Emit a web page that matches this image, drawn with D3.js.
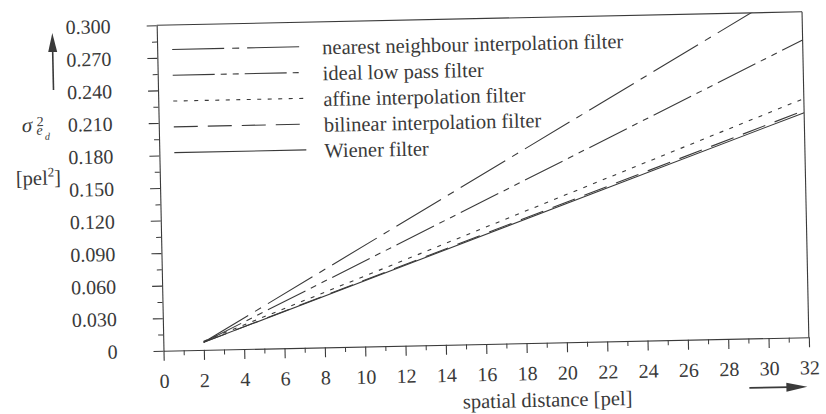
<!DOCTYPE html>
<html>
<head>
<meta charset="utf-8">
<script src="https://cdn.jsdelivr.net/npm/d3@7"></script>
<style>
  body { margin: 0; background: #fff; }
</style>
</head>
<body>
<script>
// values (all curves start at 2 pel)
const distance = [2, 32];
const nearestNeighbour = [0.007, 0.327];
const idealLowPass = [0.007, 0.274];
const affine = [0.008, 0.220];
const bilinear = [0.007, 0.209];
const wiener = [0.007, 0.207];

const seriesNames = [
  "nearest neighbour interpolation filter",
  "ideal low pass filter",
  "affine interpolation filter",
  "bilinear interpolation filter",
  "Wiener filter"
];
const seriesValues = [nearestNeighbour, idealLowPass, affine, bilinear, wiener];

const xTickValues = [0, 2, 4, 6, 8, 10, 12, 14, 16, 18, 20, 22, 24, 26, 28, 30, 32];
const xMinorValues = [1, 3, 5, 7, 9, 11, 13, 15, 17, 19, 21, 23, 25, 27, 29, 31];
const yTickValues = [0, 0.03, 0.06, 0.09, 0.12, 0.15, 0.18, 0.21, 0.24, 0.27, 0.3];
const yTickLabels = ["0", "0.030", "0.060", "0.090", "0.120", "0.150", "0.180", "0.210", "0.240", "0.270", "0.300"];
const yMinorValues = [0.015, 0.045, 0.075, 0.105, 0.135, 0.165, 0.195, 0.225, 0.255, 0.285];

const width = 826;
const height = 414;
const plotLeft = 160, plotRight = 805.5, plotTop = 18.5, plotBottom = 344;
const ink = "#3a3a3a";
const font = "'Liberation Serif', 'Times New Roman', serif";

// dash styles, same order as seriesNames
const dashes = ["52,8,7,8", "42,6,6,6,6,6", "4,6.5", "24,10", null];

const x = d3.scaleLinear([0, 32], [plotLeft, plotRight]);
const y = d3.scaleLinear([0, 0.3], [plotBottom, plotTop]);

const svg = d3.select("body").append("svg")
  .attr("width", width)
  .attr("height", height)
  .attr("viewBox", [0, 0, width, height]);

svg.append("defs").append("clipPath").attr("id", "plot")
  .append("rect")
  .attr("x", plotLeft).attr("y", plotTop)
  .attr("width", plotRight - plotLeft).attr("height", plotBottom - plotTop);

// the scanned page is slightly tilted
const g = svg.append("g")
  .attr("transform", "rotate(-1.2, 483, 181)")
  .attr("font-family", font)
  .attr("fill", ink);

// y axis with major and minor ticks
g.append("g")
  .attr("transform", `translate(${plotLeft},0)`)
  .call(d3.axisLeft(y).tickValues(yMinorValues).tickSize(5).tickFormat(""))
  .call((a) => a.select(".domain").remove())
  .call((a) => a.selectAll("line").attr("stroke", ink));

g.append("g")
  .attr("transform", `translate(${plotLeft},0)`)
  .call(d3.axisLeft(y).tickValues(yTickValues).tickSize(10).tickSizeOuter(0).tickPadding(36)
    .tickFormat((d, i) => yTickLabels[i]))
  .call((a) => a.select(".domain").attr("stroke", ink).attr("stroke-width", 1.1))
  .call((a) => a.selectAll("line").attr("stroke", ink).attr("stroke-width", 1.1))
  .call((a) => a.selectAll("text").attr("fill", ink).attr("font-family", font).attr("font-size", 20));

// x axis with major and minor ticks
g.append("g")
  .attr("transform", `translate(0,${plotBottom})`)
  .call(d3.axisBottom(x).tickValues(xMinorValues).tickSize(5).tickFormat(""))
  .call((a) => a.select(".domain").remove())
  .call((a) => a.selectAll("line").attr("stroke", ink));

g.append("g")
  .attr("transform", `translate(0,${plotBottom})`)
  .call(d3.axisBottom(x).tickValues(xTickValues).tickSize(10).tickSizeOuter(0).tickPadding(13))
  .call((a) => a.select(".domain").attr("stroke", ink).attr("stroke-width", 1.1))
  .call((a) => a.selectAll("line").attr("stroke", ink).attr("stroke-width", 1.1))
  .call((a) => a.selectAll("text").attr("fill", ink).attr("font-family", font).attr("font-size", 20));

// frame: top line and right line
g.append("line")
  .attr("x1", plotLeft).attr("x2", plotRight).attr("y1", plotTop).attr("y2", plotTop)
  .attr("stroke", ink).attr("stroke-width", 1.1);
g.append("line")
  .attr("x1", plotRight).attr("x2", plotRight).attr("y1", plotTop).attr("y2", plotBottom)
  .attr("stroke", ink).attr("stroke-width", 1.1);

// curves
const line = d3.line()
  .x((d, i) => x(distance[i]))
  .y((d) => y(d));

g.append("g")
  .attr("clip-path", "url(#plot)")
  .selectAll("path")
  .data(seriesValues)
  .join("path")
  .attr("d", line)
  .attr("fill", "none")
  .attr("stroke", ink)
  .attr("stroke-width", 1.1)
  .attr("stroke-dasharray", (d, i) => dashes[i]);

// legend
const legend = g.append("g");
const rowY = (i) => 43 + i * 25.8;
legend.selectAll("line")
  .data(seriesNames)
  .join("line")
  .attr("x1", 175).attr("x2", 307)
  .attr("y1", (d, i) => rowY(i)).attr("y2", (d, i) => rowY(i))
  .attr("stroke", ink)
  .attr("stroke-width", 1.1)
  .attr("stroke-dasharray", (d, i) => dashes[i]);
legend.selectAll("text")
  .data(seriesNames)
  .join("text")
  .attr("x", 325)
  .attr("y", (d, i) => rowY(i) + 8)
  .attr("font-size", 20.5)
  .text((d) => d);

// x axis title and arrow
g.append("text")
  .attr("x", 543).attr("y", 408)
  .attr("text-anchor", "middle")
  .attr("font-size", 20.5)
  .text("spatial distance [pel]");
g.append("line")
  .attr("x1", 745).attr("x2", 785).attr("y1", 393.5).attr("y2", 393.5)
  .attr("stroke", ink).attr("stroke-width", 1.8);
g.append("path")
  .attr("d", "M782,389L803,393.5L782,398Z");

// y axis title and arrow
g.append("line")
  .attr("x1", 55.5).attr("x2", 55.5).attr("y1", 81).attr("y2", 40)
  .attr("stroke", ink).attr("stroke-width", 1.6);
g.append("path")
  .attr("d", "M51,43L55.5,24L60,43Z");

const sigma = g.append("g");
sigma.append("text").attr("x", 23).attr("y", 122.5)
  .attr("font-size", 21).attr("font-style", "italic").text("σ");
sigma.append("text").attr("x", 38).attr("y", 117)
  .attr("font-size", 14).text("2");
sigma.append("text").attr("x", 37.5).attr("y", 125.5)
  .attr("font-size", 14).attr("font-style", "italic").text("e");
sigma.append("text").attr("x", 46).attr("y", 130.5)
  .attr("font-size", 10).attr("font-style", "italic").text("d");

const unit = g.append("text").attr("x", 16).attr("y", 175.5).attr("font-size", 20.5);
unit.append("tspan").text("[pel");
unit.append("tspan").attr("font-size", 13).attr("dy", -8).text("2");
unit.append("tspan").attr("dy", 8).text("]");
</script>
</body>
</html>
